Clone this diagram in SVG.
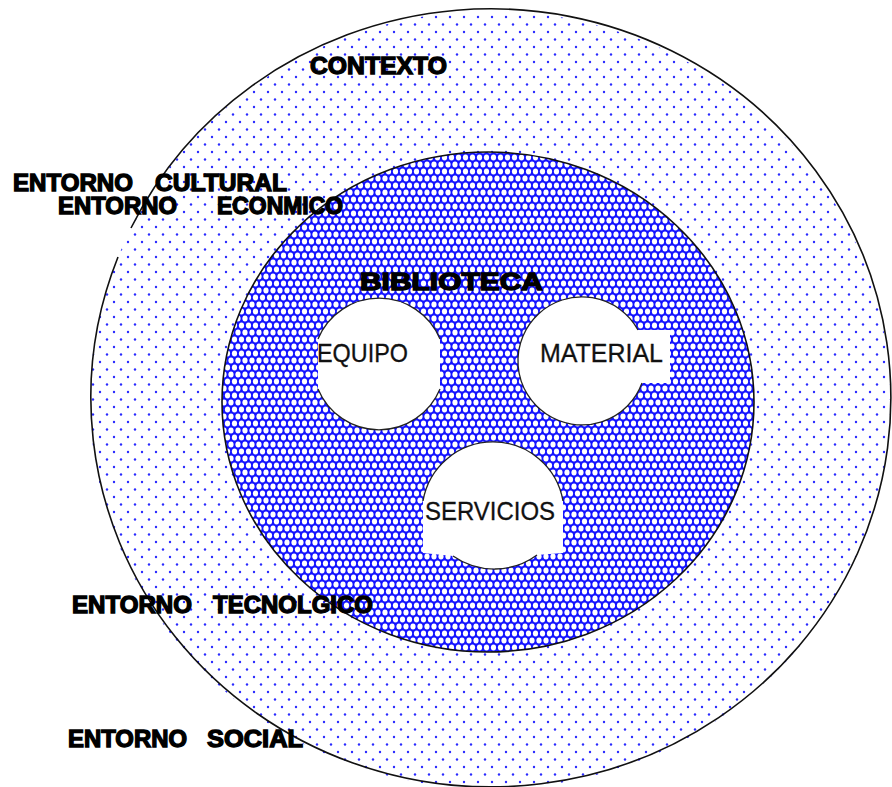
<svg xmlns="http://www.w3.org/2000/svg" width="892" height="787" viewBox="0 0 892 787">
  <defs>
    <pattern id="dots" patternUnits="userSpaceOnUse" width="14" height="15">
      <rect x="0" y="0" width="14" height="15" fill="#ffffff"/>
      <circle cx="2" cy="2" r="1.2" fill="#2a2aff"/>
      <circle cx="9" cy="9.5" r="1.2" fill="#2a2aff"/>
    </pattern>
    <pattern id="mesh" patternUnits="userSpaceOnUse" width="7" height="14">
      <rect x="0" y="0" width="7" height="14" fill="#1414ff"/>
      <ellipse cx="3.5" cy="3.5" rx="2.6" ry="3.0" fill="#ffffff"/>
      <ellipse cx="0" cy="10.5" rx="2.6" ry="3.0" fill="#ffffff"/>
      <ellipse cx="7" cy="10.5" rx="2.6" ry="3.0" fill="#ffffff"/>
    </pattern>
  </defs>
  <style>
    .edge { fill: none; stroke: #111; stroke-width: 1.6; }
    .hole { fill: #ffffff; stroke: none; }
    .holeEdge { fill: none; stroke: #222; stroke-width: 1.3; }
    .lbl { font-family: "Liberation Sans", Arial, sans-serif; font-weight: bold; font-size: 23px; fill: #000; stroke: #000; stroke-width: 1.3; }
    .hl { font-family: "Liberation Sans", Arial, sans-serif; font-size: 26px; fill: #111; stroke: #111; stroke-width: 0.3; }
  </style>
  <rect x="0" y="0" width="892" height="787" fill="#ffffff"/>

  <g id="contexto">
    <ellipse cx="490" cy="400" rx="400" ry="389" fill="url(#dots)"/>
    <path class="edge" d="M 118,257 A 400 389 0 1 0 131,228"/>
  </g>

  <g id="biblioteca">
    <ellipse cx="488" cy="402" rx="266" ry="250" fill="url(#mesh)" stroke="#111" stroke-width="1.6"/>
  </g>

  <g id="equipo">
    <path class="hole" d="M 318,339 A 66 66 0 0 1 440,339 L 440,389 A 66 66 0 0 1 318,389 Z"/>
    <path class="holeEdge" d="M 318,339 A 66 66 0 0 1 440,339 M 440,389 A 66 66 0 0 1 318,389"/>
    <text class="hl" x="317" y="362" textLength="91" lengthAdjust="spacingAndGlyphs">EQUIPO</text>
  </g>

  <g id="material">
    <path class="hole" d="M 638,330 A 64 64 0 1 0 642,383 L 670,383 L 670,330 Z"/>
    <path class="holeEdge" d="M 638,330 A 64 64 0 1 0 642,383"/>
    <text class="hl" x="540" y="362" textLength="123" lengthAdjust="spacingAndGlyphs">MATERIAL</text>
  </g>

  <g id="servicios">
    <path class="hole" d="M 423,501 A 71 71 0 0 1 563,501 L 563,553 L 537,555 A 72 72 0 0 1 453,556 L 423,553 Z"/>
    <path class="holeEdge" d="M 423,501 A 71 71 0 0 1 563,501 M 537,555 A 72 72 0 0 1 453,556"/>
    <text class="hl" x="425" y="520" textLength="130" lengthAdjust="spacingAndGlyphs">SERVICIOS</text>
  </g>

  <g id="labels">
    <text class="lbl" x="310" y="74" textLength="137" lengthAdjust="spacingAndGlyphs">CONTEXTO</text>
    <text class="lbl" x="13" y="191"><tspan x="13" textLength="120" lengthAdjust="spacingAndGlyphs">ENTORNO</tspan> <tspan x="155" textLength="132" lengthAdjust="spacingAndGlyphs">CULTURAL</tspan></text>
    <text class="lbl" x="58" y="214"><tspan x="58" textLength="119" lengthAdjust="spacingAndGlyphs">ENTORNO</tspan> <tspan x="217" textLength="126" lengthAdjust="spacingAndGlyphs">ECONMICO</tspan></text>
    <text class="lbl" x="360" y="290" textLength="183" lengthAdjust="spacingAndGlyphs">BIBLIOTECA</text>
    <text class="lbl" x="72" y="613"><tspan x="72" textLength="120" lengthAdjust="spacingAndGlyphs">ENTORNO</tspan> <tspan x="213" textLength="160" lengthAdjust="spacingAndGlyphs">TECNOLGICO</tspan></text>
    <text class="lbl" x="68" y="747"><tspan x="68" textLength="119" lengthAdjust="spacingAndGlyphs">ENTORNO</tspan> <tspan x="207" textLength="96" lengthAdjust="spacingAndGlyphs">SOCIAL</tspan></text>
  </g>
</svg>
